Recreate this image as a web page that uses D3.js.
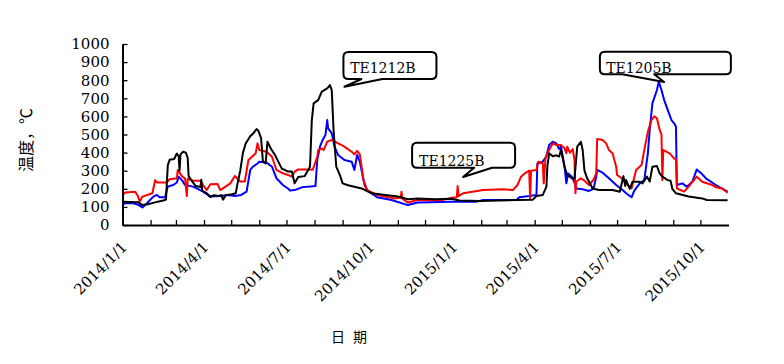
<!DOCTYPE html>
<html><head><meta charset="utf-8">
<script src="https://cdn.jsdelivr.net/npm/d3@7"></script>
<style>body{margin:0;background:#fff}</style>
</head><body><svg id="c" width="784" height="364"></svg>
<script>
// ---------- data ----------
const blackSeries = [["2014-01-01",128],["2014-01-18",126],["2014-01-23",110],["2014-01-29",115],["2014-02-06",125],["2014-02-15",135],["2014-02-18",140],["2014-02-20",330],["2014-02-22",360],["2014-02-27",365],["2014-03-02",395],["2014-03-04",380],["2014-03-05",300],["2014-03-06",390],["2014-03-09",405],["2014-03-12",400],["2014-03-14",370],["2014-03-15",270],["2014-03-19",240],["2014-03-23",215],["2014-03-28",210],["2014-03-29",250],["2014-03-30",190],["2014-04-04",175],["2014-04-08",155],["2014-04-12",165],["2014-04-17",160],["2014-04-20",165],["2014-04-22",140],["2014-04-25",165],["2014-05-02",170],["2014-05-06",175],["2014-05-08",230],["2014-05-11",300],["2014-05-14",400],["2014-05-17",450],["2014-05-22",490],["2014-05-26",510],["2014-05-29",530],["2014-05-31",520],["2014-06-03",480],["2014-06-05",350],["2014-06-08",340],["2014-06-10",460],["2014-06-14",420],["2014-06-18",390],["2014-06-22",350],["2014-06-26",310],["2014-06-29",305],["2014-07-03",295],["2014-07-07",295],["2014-07-10",230],["2014-07-14",265],["2014-07-21",270],["2014-07-27",322],["2014-07-29",580],["2014-07-31",672],["2014-08-05",690],["2014-08-09",737],["2014-08-15",755],["2014-08-18",773],["2014-08-20",745],["2014-08-22",525],["2014-08-25",322],["2014-08-29",276],["2014-09-01",230],["2014-09-07",220],["2014-09-22",202],["2014-10-03",175],["2014-10-18",166],["2014-11-01",157],["2014-11-12",142],["2014-11-23",147],["2014-12-12",142],["2014-12-30",145],["2015-01-08",135],["2015-01-30",133],["2015-02-21",136],["2015-03-12",138],["2015-03-30",140],["2015-04-03",160],["2015-04-10",166],["2015-04-14",212],["2015-04-15",322],["2015-04-17",396],["2015-04-21",380],["2015-04-25",385],["2015-04-28",378],["2015-04-30",414],["2015-05-04",322],["2015-05-07",276],["2015-05-12",258],["2015-05-15",258],["2015-05-18",433],["2015-05-22",460],["2015-05-24",414],["2015-05-26",300],["2015-05-29",258],["2015-06-04",202],["2015-06-11",193],["2015-06-26",193],["2015-07-04",184],["2015-07-08",270],["2015-07-10",215],["2015-07-11",248],["2015-07-15",200],["2015-07-18",239],["2015-07-26",239],["2015-07-29",230],["2015-08-03",267],["2015-08-06",240],["2015-08-09",322],["2015-08-14",326],["2015-08-17",285],["2015-08-20",267],["2015-08-26",248],["2015-08-29",245],["2015-08-31",200],["2015-09-04",175],["2015-09-18",157],["2015-10-03",147],["2015-10-08",138],["2015-10-31",137]];

const redSeries = [["2014-01-01",165],["2014-01-04",180],["2014-01-15",184],["2014-01-18",160],["2014-01-20",129],["2014-01-23",157],["2014-02-03",175],["2014-02-06",248],["2014-02-08",235],["2014-02-19",235],["2014-02-22",253],["2014-03-02",258],["2014-03-03",304],["2014-03-08",267],["2014-03-11",258],["2014-03-13",160],["2014-03-14",255],["2014-03-20",245],["2014-03-28",245],["2014-03-31",221],["2014-04-04",193],["2014-04-08",225],["2014-04-16",226],["2014-04-19",193],["2014-04-30",230],["2014-05-05",271],["2014-05-11",240],["2014-05-16",240],["2014-05-20",359],["2014-05-24",377],["2014-05-28",396],["2014-05-30",451],["2014-06-01",414],["2014-06-09",405],["2014-06-15",377],["2014-06-20",304],["2014-06-27",285],["2014-07-03",276],["2014-07-07",267],["2014-07-10",295],["2014-07-14",307],["2014-07-25",307],["2014-07-30",305],["2014-08-04",377],["2014-08-05",414],["2014-08-09",423],["2014-08-11",414],["2014-08-15",460],["2014-08-20",470],["2014-08-27",451],["2014-09-03",433],["2014-09-11",405],["2014-09-14",390],["2014-09-17",410],["2014-09-20",390],["2014-09-23",285],["2014-09-25",221],["2014-09-28",193],["2014-10-09",166],["2014-10-28",147],["2014-11-04",150],["2014-11-05",184],["2014-11-06",145],["2014-11-12",124],["2014-11-23",138],["2014-12-20",138],["2014-12-30",150],["2015-01-05",153],["2015-01-06",215],["2015-01-07",160],["2015-01-12",175],["2015-02-03",193],["2015-02-25",197],["2015-03-08",193],["2015-03-13",221],["2015-03-17",267],["2015-03-21",285],["2015-03-26",300],["2015-03-27",147],["2015-03-28",300],["2015-04-03",304],["2015-04-05",350],["2015-04-10",340],["2015-04-11",230],["2015-04-13",370],["2015-04-15",396],["2015-04-17",414],["2015-04-21",451],["2015-04-25",442],["2015-04-30",442],["2015-05-04",424],["2015-05-06",396],["2015-05-07",433],["2015-05-10",400],["2015-05-13",420],["2015-05-15",359],["2015-05-16",175],["2015-05-17",239],["2015-05-22",258],["2015-05-26",245],["2015-05-31",221],["2015-06-05",250],["2015-06-08",285],["2015-06-09",475],["2015-06-15",470],["2015-06-19",451],["2015-06-22",414],["2015-06-26",396],["2015-06-30",322],["2015-07-01",276],["2015-07-06",258],["2015-07-11",230],["2015-07-17",202],["2015-07-22",304],["2015-07-28",331],["2015-07-31",414],["2015-08-04",516],["2015-08-08",580],["2015-08-11",600],["2015-08-14",590],["2015-08-17",525],["2015-08-19",500],["2015-08-20",248],["2015-08-21",414],["2015-08-28",396],["2015-09-02",368],["2015-09-04",360],["2015-09-05",202],["2015-09-13",184],["2015-09-18",212],["2015-09-27",267],["2015-10-03",239],["2015-10-14",221],["2015-10-18",208],["2015-10-25",202],["2015-10-31",178]];

const blueSeries = [["2014-01-01",105],["2014-01-03",120],["2014-01-13",120],["2014-01-18",112],["2014-01-23",97],["2014-01-28",120],["2014-02-04",157],["2014-02-08",166],["2014-02-11",153],["2014-02-17",153],["2014-02-20",212],["2014-02-26",221],["2014-03-02",235],["2014-03-04",267],["2014-03-08",245],["2014-03-11",221],["2014-03-20",212],["2014-03-31",184],["2014-04-08",157],["2014-04-19",160],["2014-04-27",166],["2014-05-05",160],["2014-05-12",166],["2014-05-18",184],["2014-05-22",304],["2014-05-25",322],["2014-05-30",340],["2014-06-01",350],["2014-06-09",345],["2014-06-15",322],["2014-06-20",258],["2014-06-27",221],["2014-07-03",200],["2014-07-05",190],["2014-07-10",193],["2014-07-18",208],["2014-07-25",212],["2014-08-02",215],["2014-08-04",359],["2014-08-07",433],["2014-08-10",470],["2014-08-13",497],["2014-08-15",580],["2014-08-16",534],["2014-08-20",506],["2014-08-23",433],["2014-08-27",387],["2014-09-03",359],["2014-09-11",350],["2014-09-14",304],["2014-09-17",387],["2014-09-20",350],["2014-09-24",248],["2014-09-28",193],["2014-10-09",153],["2014-10-25",138],["2014-11-12",110],["2014-11-23",124],["2014-12-30",129],["2015-01-27",129],["2015-02-03",138],["2015-03-12",138],["2015-03-15",153],["2015-03-26",160],["2015-04-03",166],["2015-04-04",340],["2015-04-10",350],["2015-04-14",380],["2015-04-17",442],["2015-04-21",460],["2015-04-25",451],["2015-04-28",420],["2015-04-30",433],["2015-05-02",380],["2015-05-04",322],["2015-05-06",230],["2015-05-08",285],["2015-05-12",267],["2015-05-15",235],["2015-05-17",202],["2015-05-24",197],["2015-05-31",188],["2015-06-05",200],["2015-06-08",267],["2015-06-09",305],["2015-06-15",289],["2015-06-22",258],["2015-06-30",221],["2015-07-07",193],["2015-07-12",171],["2015-07-17",153],["2015-07-20",190],["2015-07-26",230],["2015-07-31",248],["2015-08-04",396],["2015-08-06",525],["2015-08-09",672],["2015-08-14",746],["2015-08-16",792],["2015-08-19",746],["2015-08-22",690],["2015-08-26",635],["2015-08-30",580],["2015-09-02",562],["2015-09-04",543],["2015-09-05",221],["2015-09-11",230],["2015-09-16",212],["2015-09-22",239],["2015-09-27",307],["2015-10-02",285],["2015-10-07",258],["2015-10-18",221],["2015-10-31",184]];

const yTickValues = [0,100,200,300,400,500,600,700,800,900,1000];
const xDomain = ["2014-01-01","2015-11-01"];
const yTitle = "温度，℃";
const xTitle = "日 期";
const calloutLabels = ["TE1212B","TE1225B","TE1205B"];
const calloutTargets = [["2014-09-03",764],["2015-01-12",265],["2015-08-22",790]];

// ---------- layout ----------
const W = 784, H = 364;
const M = {left:122.5, right:W-728.5, top:44, bottom:H-225};
const parse = d3.timeParse("%Y-%m-%d");
const svg = d3.select("#c");
const x = d3.scaleTime().domain(xDomain.map(parse)).range([M.left, W-M.right]);
const y = d3.scaleLinear().domain([0,1000]).range([H-M.bottom, M.top]);

const serif = "'DejaVu Serif', 'Liberation Serif', serif";
const cjk = "'Noto Sans CJK SC', sans-serif";

// series
const line = d3.line().x(d=>x(parse(d[0]))).y(d=>y(d[1]));
const series = [[blueSeries,"#0000ff"],[redSeries,"#ff0000"],[blackSeries,"#000000"]];
svg.append("g").selectAll("path").data(series).join("path")
  .attr("d", d=>line(d[0]))
  .attr("fill","none").attr("stroke", d=>d[1])
  .attr("stroke-width",2).attr("stroke-linejoin","round");

// axes
const fmt = d => `${d.getFullYear()}/${d.getMonth()+1}/${d.getDate()}`;
const xAxis = d3.axisBottom(x)
  .tickValues(d3.timeMonth.range(parse("2014-01-01"), parse("2015-11-01")))
  .tickSizeInner(-5).tickSizeOuter(0)
  .tickFormat(d => d.getMonth()%3===0 ? fmt(d) : "");
const gx = svg.append("g").attr("transform",`translate(0,${H-M.bottom})`).call(xAxis);
gx.select(".domain").attr("stroke","#000").attr("stroke-width",2);
gx.selectAll(".tick line").attr("stroke","#000").attr("stroke-width",1.3);
gx.selectAll(".tick text")
  .attr("x",0).attr("y",0).attr("dy",0)
  .attr("transform","translate(5,23) rotate(-45)")
  .attr("text-anchor","end")
  .style("font-family",serif).style("font-size","15px").attr("fill","#000");

const yAxis = d3.axisLeft(y).tickValues(yTickValues).tickFormat(d3.format("d"))
  .tickSizeInner(-5).tickSizeOuter(0).tickPadding(13);
const gy = svg.append("g").attr("transform",`translate(${M.left},0)`).call(yAxis);
gy.select(".domain").attr("stroke","#000").attr("stroke-width",2);
gy.selectAll(".tick line").attr("stroke","#000").attr("stroke-width",1.3);
gy.selectAll(".tick text").style("font-family",serif).style("font-size","15px").attr("fill","#000");

// titles
svg.append("text").attr("transform","translate(32,140) rotate(-90)")
  .attr("text-anchor","middle").style("font-family",cjk).style("font-size","16px")
  .text(yTitle);
svg.append("text").attr("x",349).attr("y",342)
  .attr("text-anchor","middle").style("font-family",cjk).style("font-size","14px")
  .style("word-spacing","5px").attr("xml:space","preserve").text(xTitle);

// callouts (box geometry relative to the pointed-at data point)
const bubbleGeom = [
  {x0:-1, x1:92, y0:-34.7, y1:-7.7, t0:17, t1:38, tx:5.7, ty:-13.5},
  {x0:-51, x1:52, y0:-34.3, y1:-9.3, t0:11, t1:29, tx:-44, ty:-11},
  {x0:-64.3, x1:66.7, y0:-30.3, y1:-7.7, t0:-42, t1:-10, tx:-58, ty:-9}
];
function bubblePath(ax, ay, g){
  const r = 5;
  const X0=ax+g.x0, X1=ax+g.x1, Y0=ay+g.y0, Y1=ay+g.y1;
  return `M${X0+r},${Y0}H${X1-r}Q${X1},${Y0} ${X1},${Y0+r}V${Y1-r}Q${X1},${Y1} ${X1-r},${Y1}`+
    `H${ax+g.t1}L${ax},${ay}L${ax+g.t0},${Y1}H${X0+r}Q${X0},${Y1} ${X0},${Y1-r}V${Y0+r}Q${X0},${Y0} ${X0+r},${Y0}Z`;
}
calloutLabels.forEach((lab,i)=>{
  const ax = x(parse(calloutTargets[i][0])), ay = y(calloutTargets[i][1]);
  const g = bubbleGeom[i];
  svg.append("path").attr("d",bubblePath(ax,ay,g))
    .attr("fill","#fff").attr("stroke","#000").attr("stroke-width",2).attr("stroke-linejoin","round");
  svg.append("text").attr("x",ax+g.tx).attr("y",ay+g.ty)
    .style("font-family",serif).style("font-size","14px").attr("fill","#000").text(lab);
});
</script></body></html>
